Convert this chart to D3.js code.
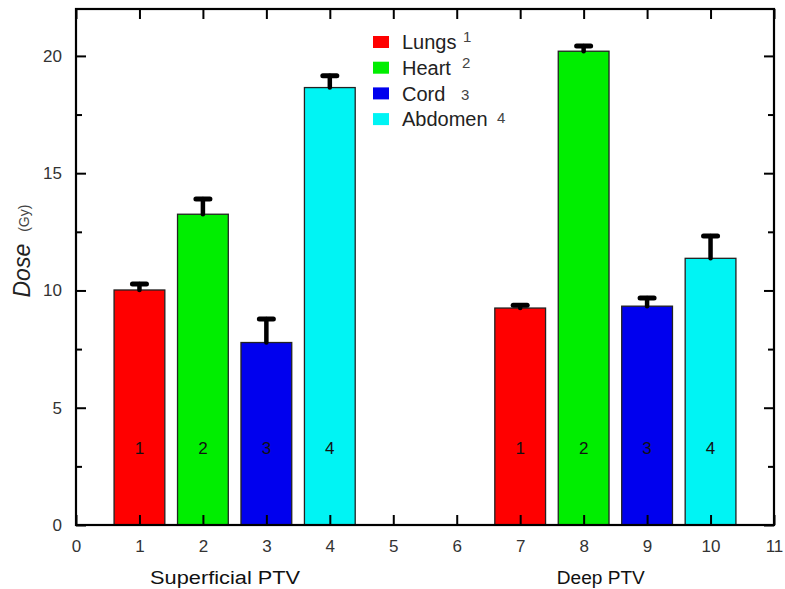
<!DOCTYPE html>
<html>
<head>
<meta charset="utf-8">
<script src="https://cdn.jsdelivr.net/npm/d3@7"></script>
<style>
  body { margin: 0; background: #fff; }
  svg { font-family: Arial, "Liberation Sans", sans-serif; }
</style>
</head>
<body>
<svg id="chart" width="785" height="589"></svg>
<script>
// data
const positions = [1, 2, 3, 4, 7, 8, 9, 10];
const doses = [10.02, 13.25, 7.78, 18.65, 9.25, 20.2, 9.33, 11.37];
const errors = [0.25, 0.65, 1.0, 0.5, 0.12, 0.22, 0.35, 0.95];
const organIds = [1, 2, 3, 4, 1, 2, 3, 4];
const organs = ["Lungs", "Heart", "Cord", "Abdomen"];
const organColors = ["#ff0000", "#00ee00", "#0000ee", "#00f4f4"];
const xTicks = d3.range(0, 12);
const yTicks = [0, 5, 10, 15, 20];
const yMinor = [2.5, 7.5, 12.5, 17.5];
const groups = [
  { name: "Superficial PTV", x: 2.35, len: 150 },
  { name: "Deep PTV", x: 8.27, len: 88 }
];

const svg = d3.select("#chart");
const margin = { left: 76, right: 11, top: 9, bottom: 64 };
const W = 785, H = 589;

const x = d3.scaleLinear().domain([0, 11]).range([margin.left, W - margin.right]);
const y = d3.scaleLinear().domain([0, 22]).range([H - margin.bottom, margin.top]);
const barW = x(0.8) - x(0);

const data = positions.map((p, i) => ({ p, v: doses[i], e: errors[i], id: organIds[i] }));

// bars
svg.append("g").selectAll("rect").data(data).join("rect")
  .attr("x", d => x(d.p) - barW / 2)
  .attr("y", d => y(d.v))
  .attr("width", barW)
  .attr("height", d => y(0) - y(d.v))
  .attr("fill", d => organColors[d.id - 1])
  .attr("stroke", "#222")
  .attr("stroke-width", 1.3);

// upper error bars
const err = svg.append("g").attr("stroke", "#000").attr("stroke-linecap", "round");
err.selectAll("line.stem").data(data).join("line")
  .attr("class", "stem")
  .attr("x1", d => x(d.p)).attr("x2", d => x(d.p))
  .attr("y1", d => y(d.v)).attr("y2", d => y(d.v + d.e))
  .attr("stroke-width", 4.5);
err.selectAll("line.cap").data(data).join("line")
  .attr("class", "cap")
  .attr("x1", d => x(d.p) - 7).attr("x2", d => x(d.p) + 7)
  .attr("y1", d => y(d.v + d.e)).attr("y2", d => y(d.v + d.e))
  .attr("stroke-width", 5);

// numbers inside bars
svg.append("g").selectAll("text").data(data).join("text")
  .attr("x", d => x(d.p))
  .attr("y", y(3.3))
  .attr("dy", "0.35em")
  .attr("text-anchor", "middle")
  .attr("font-size", 17)
  .attr("fill", "#111")
  .text(d => d.id);

// axes with inward ticks
const axBottom = d3.axisBottom(x).tickValues(xTicks).tickSize(-10).tickPadding(15);
const axTop = d3.axisTop(x).tickValues(xTicks).tickSize(-10).tickFormat("");
const axLeft = d3.axisLeft(y).tickValues(yTicks).tickSize(-10).tickPadding(14);
const axRight = d3.axisRight(y).tickValues(yTicks).tickSize(-10).tickFormat("");
const axLeftMinor = d3.axisLeft(y).tickValues(yMinor).tickSize(-6).tickFormat("");
const axRightMinor = d3.axisRight(y).tickValues(yMinor).tickSize(-6).tickFormat("");

function style(g) {
  g.select(".domain").remove();
  g.selectAll(".tick line").attr("stroke", "#000").attr("stroke-width", 2);
  g.selectAll(".tick text").attr("font-size", 17).attr("fill", "#333")
    .attr("font-family", "Arial, 'Liberation Sans', sans-serif");
}
svg.append("g").attr("transform", `translate(0,${y(0)})`).call(axBottom).call(style);
svg.append("g").attr("transform", `translate(0,${y(22)})`).call(axTop).call(style);
svg.append("g").attr("transform", `translate(${x(0)},0)`).call(axLeft).call(style);
svg.append("g").attr("transform", `translate(${x(11)},0)`).call(axRight).call(style);
svg.append("g").attr("transform", `translate(${x(0)},0)`).call(axLeftMinor).call(style);
svg.append("g").attr("transform", `translate(${x(11)},0)`).call(axRightMinor).call(style);

// frame
svg.append("rect")
  .attr("x", x(0)).attr("y", y(22))
  .attr("width", x(11) - x(0)).attr("height", y(0) - y(22))
  .attr("fill", "none").attr("stroke", "#000").attr("stroke-width", 2.2);

// y label
const yl = svg.append("text")
  .attr("transform", `translate(30,${y(9.7)}) rotate(-90)`)
  .attr("font-size", 23).attr("fill", "#222");
yl.append("tspan").attr("font-style", "italic").text("Dose");
yl.append("tspan").attr("font-size", 14).attr("dx", 12).attr("dy", -1).attr("fill", "#444").text("(Gy)");

// group labels
svg.append("g").selectAll("text").data(groups).join("text")
  .attr("x", d => x(d.x)).attr("y", 584)
  .attr("text-anchor", "middle")
  .attr("font-size", 18).attr("fill", "#111")
  .attr("textLength", d => d.len)
  .attr("lengthAdjust", "spacingAndGlyphs")
  .text(d => d.name);

// legend
const supDx = [61, 60, 59, 95];
const supDy = [-5, -5, 1, -2];
const lg = svg.append("g").attr("transform", "translate(373,42)");
const row = lg.selectAll("g").data(organs).join("g")
  .attr("transform", (d, i) => `translate(0,${i * 25.7})`);
row.append("rect").attr("x", 0).attr("y", -6).attr("width", 16).attr("height", 12)
  .attr("fill", (d, i) => organColors[i]);
row.append("text").attr("x", 29).attr("dy", "0.36em")
  .attr("font-size", 20).attr("fill", "#222").text(d => d);
row.append("text").attr("x", (d, i) => 29 + supDx[i]).attr("y", (d, i) => supDy[i])
  .attr("dy", "0.36em").attr("font-size", 15).attr("fill", "#444")
  .text((d, i) => i + 1);
</script>
</body>
</html>
